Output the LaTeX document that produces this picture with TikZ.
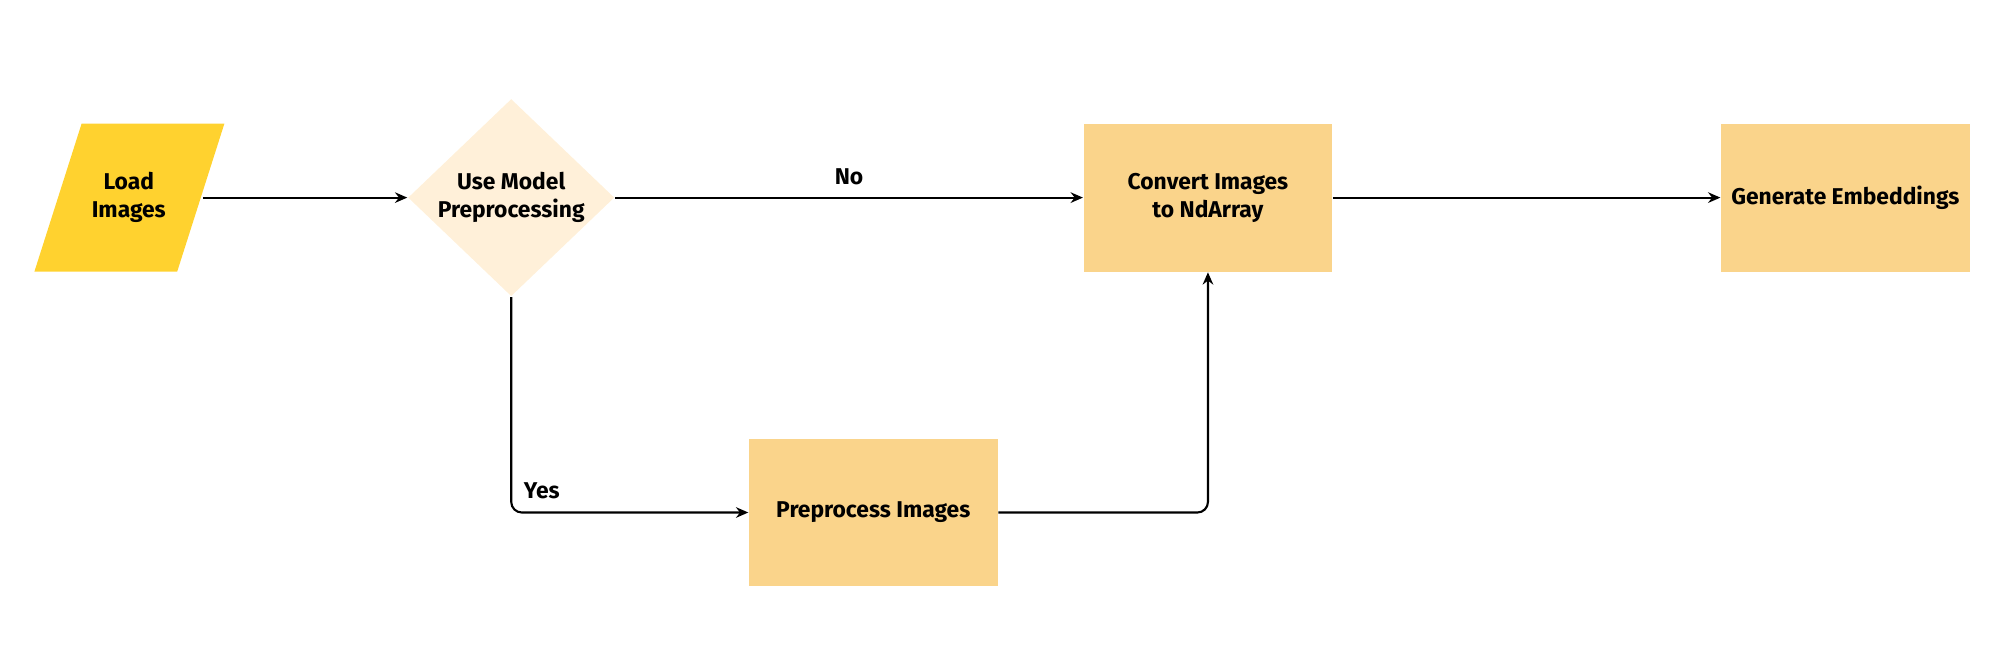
\documentclass[tikz,border=0pt]{standalone}
\usepackage{fontspec}
\setmainfont{Fira Sans}
\usetikzlibrary{shapes.geometric,arrows.meta,positioning}
\definecolor{loadcol}{HTML}{FFD22F}
\definecolor{askcol}{HTML}{FFF0D9}
\definecolor{boxcol}{HTML}{FAD48B}
\tikzset{
	stepbox/.style={fill=boxcol,minimum width=2.487cm,minimum height=1.48cm,align=center,inner sep=0pt},
	askbox/.style={diamond,fill=askcol,minimum width=2.066cm,minimum height=1.48cm,align=center,inner sep=0pt},
	flow/.style={-{Stealth[length=3.5pt,width=3pt]},line width=0.6pt,rounded corners=3pt},
	lbl/.style={font=\fontsize{6.5}{8}\selectfont\bfseries}
}
\begin{document}
\begin{tikzpicture}[x=0.012755cm,y=-0.012755cm,font=\fontsize{6.5}{8}\selectfont\bfseries]
	\useasboundingbox (0,0) rectangle (1568,510);

	\fill[loadcol] (64,97) -- (176,97) -- (139,213) -- (27,213) -- cycle;
	\node [minimum width=1.467cm,minimum height=1.48cm,align=center,inner sep=0pt] (load) at (101,155) {Load\\Images};

	\node [askbox] (ask) at (401,155) {Use Model\\Preprocessing};
	\node [stepbox] (conv) at (947.5,155) {Convert Images\\to NdArray};
	\node [stepbox] (emb) at (1447.5,155) {Generate Embeddings};
	\node [stepbox] (prep) at (685,402) {Preprocess Images};

	\draw [flow] (load) -- (ask);
	\draw [flow] (ask) -- node [lbl,above,pos=0.5] {No} (conv);
	\draw [flow] (conv) -- (emb);
	\draw [flow] (ask.south) |- node [lbl,right,pos=0.45] {Yes} (prep.west);
	\draw [flow] (prep.east) -| (conv.south);
\end{tikzpicture}
\end{document}
